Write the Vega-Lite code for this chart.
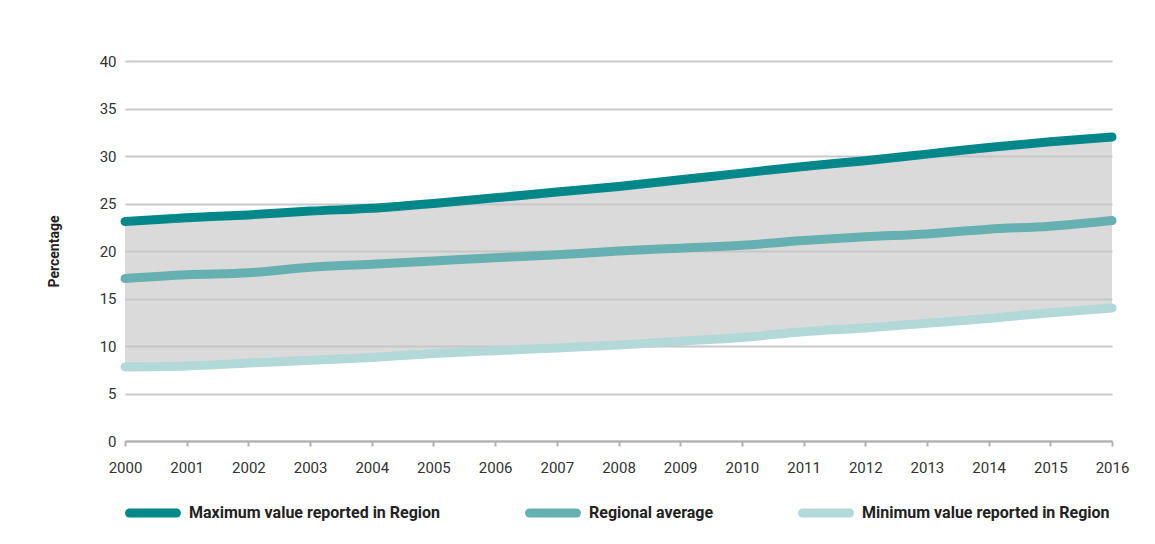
{
  "$schema": "https://vega.github.io/schema/vega-lite/v6.json",
  "width": 987,
  "height": 380,
  "padding": {"left": 47, "top": 54, "right": 5, "bottom": 5},
  "background": "white",
  "config": {
    "font": "Roboto, sans-serif",
    "view": {"stroke": null}
  },
  "data": {
    "values": [
      {"year": 2000, "max": 23.1, "avg": 17.1, "min": 7.8},
      {"year": 2001, "max": 23.5, "avg": 17.5, "min": 7.9},
      {"year": 2002, "max": 23.8, "avg": 17.7, "min": 8.2},
      {"year": 2003, "max": 24.2, "avg": 18.3, "min": 8.5},
      {"year": 2004, "max": 24.5, "avg": 18.6, "min": 8.8},
      {"year": 2005, "max": 25.0, "avg": 18.95, "min": 9.2},
      {"year": 2006, "max": 25.6, "avg": 19.3, "min": 9.5},
      {"year": 2007, "max": 26.2, "avg": 19.6, "min": 9.8},
      {"year": 2008, "max": 26.8, "avg": 20.0, "min": 10.1},
      {"year": 2009, "max": 27.5, "avg": 20.3, "min": 10.5},
      {"year": 2010, "max": 28.2, "avg": 20.6, "min": 10.9},
      {"year": 2011, "max": 28.9, "avg": 21.1, "min": 11.5},
      {"year": 2012, "max": 29.5, "avg": 21.5, "min": 11.9},
      {"year": 2013, "max": 30.2, "avg": 21.8, "min": 12.4},
      {"year": 2014, "max": 30.9, "avg": 22.3, "min": 12.9},
      {"year": 2015, "max": 31.5, "avg": 22.6, "min": 13.5},
      {"year": 2016, "max": 32.0, "avg": 23.2, "min": 14.0}
    ]
  },
  "encoding": {
    "x": {
      "field": "year",
      "type": "quantitative",
      "scale": {"domain": [2000, 2016], "nice": false, "zero": false},
      "axis": {
        "title": null,
        "format": "d",
        "values": [2000,2001,2002,2003,2004,2005,2006,2007,2008,2009,2010,2011,2012,2013,2014,2015,2016],
        "grid": false,
        "domainColor": "#b0b0b0",
        "domainWidth": 2,
        "tickColor": "#b0b0b0",
        "tickWidth": 2,
        "tickSize": 5,
        "labelPadding": 14,
        "labelFontSize": 15,
        "labelColor": "#333333",
        "labelFlush": false
      }
    }
  },
  "layer": [
    {
      "mark": {"type": "area", "color": "#c5c5c5", "opacity": 0.63, "interpolate": "monotone"},
      "encoding": {
        "y": {
          "field": "min",
          "type": "quantitative",
          "scale": {"domain": [0, 40], "nice": false},
          "axis": {
            "title": "Percentage",
            "titleFontSize": 14,
            "titleFontWeight": "bold",
            "titleColor": "#222222",
            "titlePadding": 38,
            "values": [0,5,10,15,20,25,30,35,40],
            "grid": true,
            "gridColor": "#c8c8c8",
            "gridWidth": 2,
            "domain": false,
            "ticks": false,
            "labelPadding": 9,
            "labelFontSize": 15,
            "labelColor": "#333333"
          }
        },
        "y2": {"field": "max"}
      }
    },
    {
      "transform": [
        {"fold": ["max", "avg", "min"], "as": ["key", "value"]},
        {"lookup": "key", "from": {"data": {"values": [
          {"key": "max", "series": "Maximum value reported in Region"},
          {"key": "avg", "series": "Regional average"},
          {"key": "min", "series": "Minimum value reported in Region"}
        ]}, "key": "key", "fields": ["series"]}}
      ],
      "mark": {"type": "line", "strokeWidth": 9, "strokeCap": "round", "interpolate": "monotone"},
      "encoding": {
        "y": {"field": "value", "type": "quantitative"},
        "color": {
          "field": "series",
          "type": "nominal",
          "scale": {
            "domain": ["Maximum value reported in Region", "Regional average", "Minimum value reported in Region"],
            "range": ["#00878a", "#67b0b2", "#b2d8d8"]
          },
          "legend": {
            "title": null,
            "orient": "bottom",
            "direction": "horizontal",
            "symbolType": "stroke",
            "symbolSize": 2200,
            "symbolStrokeWidth": 9,
            "labelFontSize": 16,
            "labelFontWeight": "bold",
            "labelColor": "#222222",
            "labelLimit": 400,
            "labelOffset": 8,
            "columnPadding": 70,
            "offset": 10,
            "encode": {"symbols": {"update": {"strokeCap": {"value": "round"}}}}
          }
        },
        "detail": {"field": "key"}
      }
    }
  ]
}
